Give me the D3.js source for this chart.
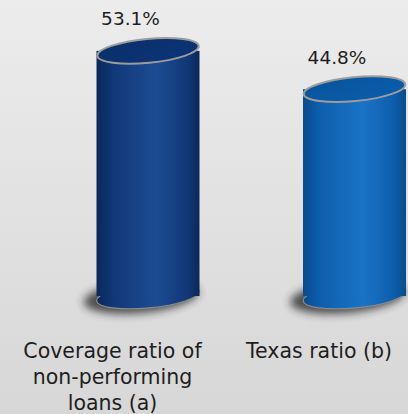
<!DOCTYPE html>
<html>
<head>
<meta charset="utf-8">
<script src="https://cdn.jsdelivr.net/npm/d3@7"></script>
<style>
  html, body { margin: 0; padding: 0; }
  body { width: 408px; height: 414px; overflow: hidden; }
  svg { display: block; }
  text { font-family: "DejaVu Sans", "Noto Sans", sans-serif; fill: #1e1e1e; }
</style>
</head>
<body>
<svg id="chart" width="408" height="414"></svg>
<script>
// Chart data
const categories = ["Coverage ratio of non-performing loans (a)", "Texas ratio (b)"];
const categoryLines = [["Coverage ratio of", "non-performing", "loans (a)"], ["Texas ratio (b)"]];
const values = [53.1, 44.8];
const valueLabels = ["53.1%", "44.8%"];

// Cylinder colour schemes
const palettes = [
  { edge: "#0b2858", mid: "#113877", light: "#1c4c93", top: "#0b3372" },
  { edge: "#0a4b8e", mid: "#0e5ead", light: "#1a73c5", top: "#0a5aa6" }
];

const W = 408, H = 414;
const svg = d3.select("#chart");
const defs = svg.append("defs");

// Background wash
const bg = defs.append("linearGradient").attr("id", "bg")
  .attr("x1", 0).attr("y1", 0).attr("x2", 0).attr("y2", 1);
bg.append("stop").attr("offset", "0%").attr("stop-color", "#ececec");
bg.append("stop").attr("offset", "100%").attr("stop-color", "#d7d7d7");
svg.append("rect").attr("width", W).attr("height", H).attr("fill", "url(#bg)");

// Soft shadow under each cylinder
defs.append("filter").attr("id", "shadowBlur")
  .attr("x", "-50%").attr("y", "-50%").attr("width", "200%").attr("height", "200%")
  .append("feGaussianBlur").attr("stdDeviation", 4);

palettes.forEach((p, i) => {
  const g = defs.append("linearGradient").attr("id", "body" + i)
    .attr("x1", 0).attr("y1", 0).attr("x2", 1).attr("y2", 0);
  g.append("stop").attr("offset", "0%").attr("stop-color", p.edge);
  g.append("stop").attr("offset", "16%").attr("stop-color", p.mid);
  g.append("stop").attr("offset", "58%").attr("stop-color", p.light);
  g.append("stop").attr("offset", "88%").attr("stop-color", p.mid);
  g.append("stop").attr("offset", "100%").attr("stop-color", p.edge);

  const t = defs.append("linearGradient").attr("id", "top" + i)
    .attr("x1", 0).attr("y1", 0).attr("x2", 1).attr("y2", 1);
  t.append("stop").attr("offset", "0%").attr("stop-color", d3.color(p.top).darker(0.2));
  t.append("stop").attr("offset", "100%").attr("stop-color", d3.color(p.top).brighter(0.1));
});

// Scales
const x = d3.scalePoint().domain(categories).range([112.5, 319]);
const y = d3.scaleLinear().domain([0, 60]).range([296, 19]);

const depth = 35.5;    // cylinder offset to the right of its category
const labelShift = 18; // value label offset
const rx = 51.5, ry = 12, tilt = -5.5;

const data = categories.map((c, i) => ({ c, v: values[i], label: valueLabels[i], lines: categoryLines[i], i }));

const cyl = svg.selectAll("g.cyl").data(data).join("g").attr("class", "cyl");

// shadow
cyl.append("ellipse")
  .attr("cx", d => x(d.c) + depth - 7)
  .attr("cy", y(0) + 1)
  .attr("rx", rx + 6).attr("ry", ry + 4)
  .attr("transform", d => `rotate(${tilt},${x(d.c) + depth - 7},${y(0) + 1})`)
  .attr("fill", "#262626").attr("opacity", 0.8)
  .attr("filter", "url(#shadowBlur)");

// bottom cap
cyl.append("ellipse")
  .attr("cx", d => x(d.c) + depth)
  .attr("cy", y(0))
  .attr("rx", rx).attr("ry", ry)
  .attr("transform", d => `rotate(${tilt},${x(d.c) + depth},${y(0)})`)
  .attr("fill", d => `url(#body${d.i})`)
  .attr("stroke", "#8a8a8a").attr("stroke-width", 1.2);

// body
cyl.append("rect")
  .attr("x", d => x(d.c) + depth - rx)
  .attr("y", d => y(d.v))
  .attr("width", rx * 2)
  .attr("height", d => y(0) - y(d.v))
  .attr("fill", d => `url(#body${d.i})`);

// top face
cyl.append("ellipse")
  .attr("cx", d => x(d.c) + depth)
  .attr("cy", d => y(d.v))
  .attr("rx", rx - 0.5).attr("ry", ry)
  .attr("transform", d => `rotate(${tilt},${x(d.c) + depth},${y(d.v)})`)
  .attr("fill", d => `url(#top${d.i})`)
  .attr("stroke", "#9c9c9c").attr("stroke-width", 2);

// value labels
svg.selectAll("text.val").data(data).join("text")
  .attr("class", "val")
  .attr("x", d => x(d.c) + labelShift)
  .attr("y", d => y(d.v) - 25.5)
  .attr("text-anchor", "middle")
  .attr("font-size", 18.5)
  .text(d => d.label);

// category labels
const cat = svg.selectAll("text.cat").data(data).join("text")
  .attr("class", "cat")
  .attr("text-anchor", "middle")
  .attr("font-size", 20.5);
cat.selectAll("tspan").data(d => d.lines.map(l => ({ l, c: d.c }))).join("tspan")
  .attr("x", d => x(d.c))
  .attr("y", (d, k) => 357.5 + k * 26)
  .text(d => d.l);
</script>
</body>
</html>
